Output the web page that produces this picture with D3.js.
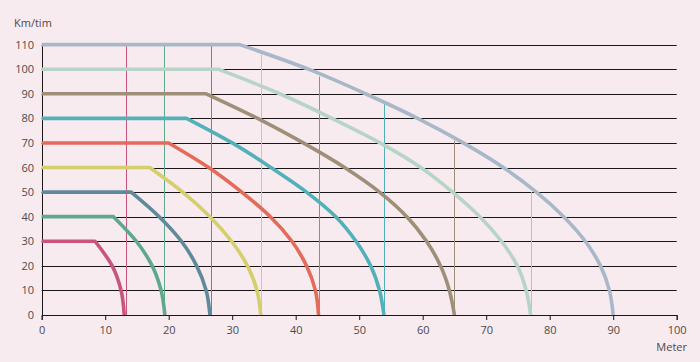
<!DOCTYPE html>
<html>
<head>
<meta charset="utf-8">
<script src="https://cdn.jsdelivr.net/npm/d3@7"></script>
<style>
  html, body { margin: 0; padding: 0; background: #f7ebef; }
  svg { display: block; }
  text { font-family: "Open Sans", "DejaVu Sans", sans-serif; font-size: 11px; fill: #4d4a4c; }
</style>
</head>
<body>
<svg id="chart" width="700" height="362"></svg>
<script>
// ---- data ----
const speeds = [30, 40, 50, 60, 70, 80, 90, 100, 110];
const colors = ["#c9557e", "#5fa88c", "#5f8a99", "#d4cf6c", "#e46b5a", "#52b1b8", "#a08f78", "#b7d4c7", "#a9b8c8"];
// distance where the flat (reaction) part ends
const reactionDist = [8.4, 11.3, 14.1, 17.0, 20.0, 22.8, 25.9, 27.8, 31.2];
// distance where each curve crosses speed v-10, v-20, ... 10
const brakeDist = [
  [11.1, 12.5],
  [14.9, 17.4, 18.8],
  [18.5, 22.0, 24.4, 25.9],
  [22.2, 26.5, 29.9, 32.4, 33.9],
  [26.3, 31.5, 36.0, 39.4, 41.7, 43.1],
  [30.0, 36.1, 41.7, 46.3, 49.5, 51.8, 53.2],
  [34.0, 41.2, 47.7, 53.2, 57.5, 60.6, 62.8, 64.2],
  [37.5, 45.7, 53.3, 59.7, 64.7, 69.0, 72.4, 74.9, 76.3],
  [42.0, 51.0, 59.2, 66.4, 72.7, 77.9, 82.2, 85.6, 88.0, 89.4]
];
// stopping distance (speed 0)
const stopDist = [13.0, 19.4, 26.5, 34.5, 43.6, 53.9, 65.0, 77.0, 90.0];
// thin vertical marker lines
const markerX = [13.3, 19.3, 26.6, 34.5, 43.6, 53.9, 65.0, 77.0];
const markerTop = [110, 110, 110, 106, 97, 86, 71, 50];
const markerColors = ["#c9557e", "#5fa88c", "#5f8a99", "#d4cf6c", "#e46b5a", "#52b1b8", "#a08f78", "#b3c6bd"];
const xTicks = [0, 10, 20, 30, 40, 50, 60, 70, 80, 90, 100];
const yTicks = [0, 10, 20, 30, 40, 50, 60, 70, 80, 90, 100, 110];

// ---- layout ----
const svg = d3.select("#chart");
const x = d3.scaleLinear().domain([0, 100]).range([41.7, 676.7]);
const y = d3.scaleLinear().domain([0, 110]).range([315, 44.6]);
const crisp = v => Math.round(v) + 0.5;

// gridlines
svg.append("g").selectAll("line").data(yTicks.filter(d => d > 0)).join("line")
  .attr("x1", x(0)).attr("x2", x(100))
  .attr("y1", d => crisp(y(d))).attr("y2", d => crisp(y(d)))
  .attr("stroke", "#1a1517").attr("stroke-width", 1);

// marker lines
svg.append("g").selectAll("line").data(markerX).join("line")
  .attr("x1", d => crisp(x(d))).attr("x2", d => crisp(x(d)))
  .attr("y1", y(0)).attr("y2", (d, i) => y(markerTop[i]))
  .attr("stroke", (d, i) => markerColors[i]).attr("stroke-width", 1);

// axes
const xAxis = d3.axisBottom(x).tickValues(xTicks).tickSize(5).tickPadding(4);
const gx = svg.append("g").attr("transform", `translate(0,${crisp(y(0)) - 0.5})`).call(xAxis);
gx.select(".domain").attr("stroke", "#1a1517");
gx.selectAll(".tick line").attr("stroke", "#1a1517");
gx.selectAll("text").attr("font-family", null).attr("font-size", null).attr("fill", null).attr("dy", "0.9em");

const yAxis = d3.axisLeft(y).tickValues(yTicks).tickSize(0).tickPadding(8);
const gy = svg.append("g").attr("transform", `translate(${crisp(x(0)) - 0.5},0)`).call(yAxis);
gy.select(".domain").attr("stroke", "#1a1517");
gy.selectAll("text").attr("font-family", null).attr("font-size", null).attr("fill", null);

// curves
const brakeLine = d3.line().x(d => x(d[0])).y(d => y(d[1])).curve(d3.curveMonotoneY);
speeds.forEach((v, i) => {
  const pts = [[reactionDist[i], v]];
  brakeDist[i].forEach((dist, k) => pts.push([dist, v - 10 * (k + 1)]));
  pts.push([stopDist[i], 0]);
  const path = "M" + x(0) + "," + y(v) + "L" + brakeLine(pts).slice(1);
  svg.append("path")
    .attr("d", path)
    .attr("fill", "none")
    .attr("stroke", colors[i])
    .attr("stroke-width", 3.6)
    .attr("stroke-linejoin", "round");
});

// axis titles
svg.append("text").attr("x", 14).attr("y", 27).text("Km/tim");
svg.append("text").attr("x", 687).attr("y", 351).attr("text-anchor", "end").text("Meter");
</script>
</body>
</html>
